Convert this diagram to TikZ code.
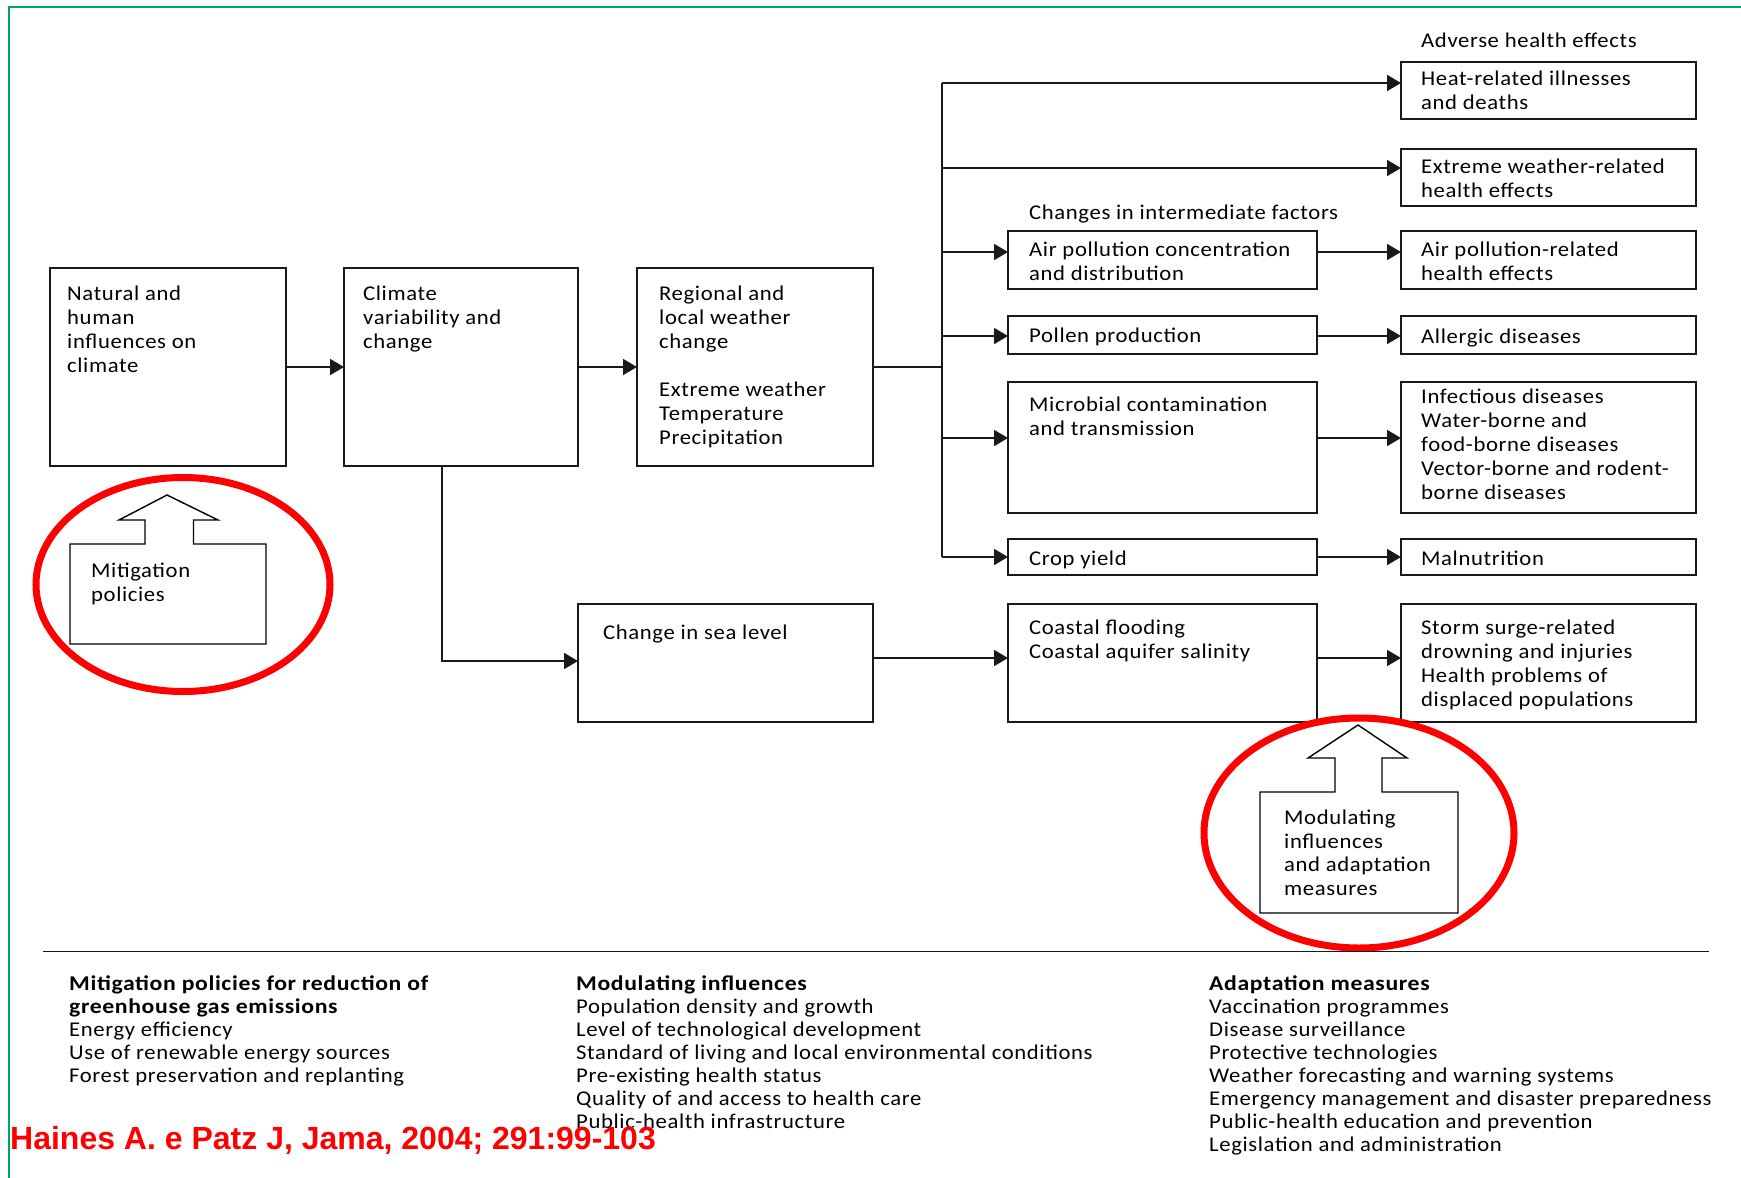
\documentclass[tikz,border=0pt]{standalone}
\usepackage{fontspec}
\setmainfont{Carlito}[FakeStretch=1.08,LetterSpace=3,BoldFeatures={FakeStretch=1.13,LetterSpace=3}]
\newfontfamily\citefont{Liberation Sans}
\usetikzlibrary{arrows.meta,calc}
\begin{document}
\begin{tikzpicture}[x=1pt,y=-1pt,
  box/.style={draw=black!90,line width=1.8pt,inner sep=0pt,outer sep=0pt,anchor=north west},
  txt/.style={anchor=north west,inner sep=0pt,align=left,font=\fontsize{21}{24}\selectfont},
  btxt/.style={anchor=north west,inner sep=0pt,align=left,font=\fontsize{21}{23}\selectfont},
  conn/.style={draw=black!90,line width=1.8pt},
  arr/.style={conn,-{Triangle[length=14pt,width=16pt]}},
  blockarrow/.style={draw=black,line width=1.4pt,line join=miter},
  ring/.style={draw=red,line width=7pt},
  greenframe/.style={draw=teal!70!green,line width=2pt}
]
\useasboundingbox (0,0) rectangle (1741,1178);
\draw[greenframe] (8.6,1178) -- (8.6,7.3) -- (1741,7.3);

% main chain
\node[box,minimum width=236pt,minimum height=198pt] (b1) at (50,268) {};
\node[box,minimum width=234pt,minimum height=198pt] (b2) at (344,268) {};
\node[box,minimum width=236pt,minimum height=198pt] (b3) at (637,268) {};
\node[txt] (b1t) at (67,286) {Natural and\\human\\influences on\\climate};
\node[txt] (b2t) at (363,286) {Climate\\variability and\\change};
\node[txt] (b3t) at (659,286) {Regional and\\local weather\\change\\[24pt]Extreme weather\\Temperature\\Precipitation};

% right column
\node[box,minimum width=295pt,minimum height=57pt] (heat) at (1401,62) {};
\node[box,minimum width=295pt,minimum height=57pt] (extr) at (1401,149) {};
\node[box,minimum width=295pt,minimum height=58pt] (airh) at (1401,231) {};
\node[box,minimum width=295pt,minimum height=38pt] (allerg) at (1401,316) {};
\node[box,minimum width=295pt,minimum height=131pt] (infect) at (1401,382) {};
\node[box,minimum width=295pt,minimum height=36pt] (maln) at (1401,539) {};
\node[box,minimum width=295pt,minimum height=118pt] (storm) at (1401,604) {};

% middle column
\node[box,minimum width=309pt,minimum height=58pt] (airc) at (1008,231) {};
\node[box,minimum width=309pt,minimum height=38pt] (pollen) at (1008,316) {};
\node[box,minimum width=309pt,minimum height=131pt] (micro) at (1008,382) {};
\node[box,minimum width=309pt,minimum height=36pt] (crop) at (1008,539) {};
\node[box,minimum width=309pt,minimum height=118pt] (coast) at (1008,604) {};
\node[box,minimum width=295pt,minimum height=118pt] (sea) at (578,604) {};

% texts
\node[txt] (adv) at (1421,33) {Adverse health effects};
\node[txt] (chg) at (1029,205) {Changes in intermediate factors};
\node[txt] (heatt) at (1421,71) {Heat-related illnesses\\and deaths};
\node[txt] (extrt) at (1421,159) {Extreme weather-related\\health effects};
\node[txt] (airht) at (1421,242) {Air pollution-related\\health effects};
\node[txt] (allergt) at (1421,329) {Allergic diseases};
\node[txt] (infectt) at (1421,389) {Infectious diseases\\Water-borne and\\food-borne diseases\\Vector-borne and rodent-\\borne diseases};
\node[txt] (malnt) at (1421,551) {Malnutrition};
\node[txt] (stormt) at (1421,620) {Storm surge-related\\drowning and injuries\\Health problems of\\displaced populations};
\node[txt] (airct) at (1029,242) {Air pollution concentration\\and distribution};
\node[txt] (pollent) at (1029,328) {Pollen production};
\node[txt] (microt) at (1029,397) {Microbial contamination\\and transmission};
\node[txt] (cropt) at (1029,551) {Crop yield};
\node[txt] (coastt) at (1029,620) {Coastal flooding\\Coastal aquifer salinity};
\node[txt] (seat) at (603,625) {Change in sea level};

% connectors
\coordinate (t1) at (942,83);
\coordinate (t2) at (942,168);
\coordinate (t3) at (942,252);
\coordinate (t4) at (942,336);
\coordinate (t5) at (942,438);
\coordinate (t6) at (942,557);
\coordinate (sd) at (442,661);
\coordinate (cy) at (0,658);
\draw[arr] (b1.east) -- (b2.west);
\draw[arr] (b2.east) -- (b3.west);
\draw[conn] (b3.east) -- (b3.east -| t1);
\draw[conn] (t1) -- (t6);
\draw[arr] (t1) -- (t1 -| heat.west);
\draw[arr] (t2) -- (t2 -| extr.west);
\draw[arr] (t3) -- (t3 -| airc.west);
\draw[arr] (t4) -- (t4 -| pollen.west);
\draw[arr] (t5) -- (t5 -| micro.west);
\draw[arr] (t6) -- (t6 -| crop.west);
\draw[arr] (t3 -| airc.east) -- (t3 -| airh.west);
\draw[arr] (t4 -| pollen.east) -- (t4 -| allerg.west);
\draw[arr] (t5 -| micro.east) -- (t5 -| infect.west);
\draw[arr] (t6 -| crop.east) -- (t6 -| maln.west);
\draw[arr] (b2.south -| sd) -- (sd) -- (sd -| sea.west);
\draw[arr] (sea.east |- cy) -- (cy -| coast.west);
\draw[arr] (coast.east |- cy) -- (cy -| storm.west);

% block arrows
\draw[blockarrow] (70,544) -- (145,544) -- (145,520) -- (119,520) -- (167,495) -- (218,520) -- (193.5,520) -- (193.5,544) -- (266,544) -- (266,644) -- (70,644) -- cycle;
\node[txt] (mit) at (91,563) {Mitigation\\policies};
\draw[blockarrow] (1260,792) -- (1335,792) -- (1335,758) -- (1308,758) -- (1358,725) -- (1407,758) -- (1382,758) -- (1382,792) -- (1458,792) -- (1458,913) -- (1260,913) -- cycle;
\node[txt,font=\fontsize{21}{23.5}\selectfont] (mod) at (1284,810) {Modulating\\influences\\and adaptation\\measures};

% rings
\draw[ring] (183,584.5) ellipse [x radius=147pt, y radius=107pt];
\draw[ring] (1359,833) ellipse [x radius=155pt, y radius=115pt];

% bottom
\coordinate (rl) at (43,951.5);
\coordinate (rr) at (1709,951.5);
\draw[conn,line width=1.5pt] (rl) -- (rr);
\node[btxt] (c1) at (69,976) {\textbf{Mitigation policies for reduction of}\\\textbf{greenhouse gas emissions}\\Energy efficiency\\Use of renewable energy sources\\Forest preservation and replanting};
\node[btxt] (c2) at (576,976) {\textbf{Modulating influences}\\Population density and growth\\Level of technological development\\Standard of living and local environmental conditions\\Pre-existing health status\\Quality of and access to health care\\Public-health infrastructure};
\node[btxt] (c3) at (1209,976) {\textbf{Adaptation measures}\\Vaccination programmes\\Disease surveillance\\Protective technologies\\Weather forecasting and warning systems\\Emergency management and disaster preparedness\\Public-health education and prevention\\Legislation and administration};
\node[anchor=west,inner sep=0pt,text=red,font=\citefont\bfseries\fontsize{32}{32}\selectfont] (cite) at (10,1140) {Haines A. e Patz J, Jama, 2004; 291:99-103};
\end{tikzpicture}
\end{document}
